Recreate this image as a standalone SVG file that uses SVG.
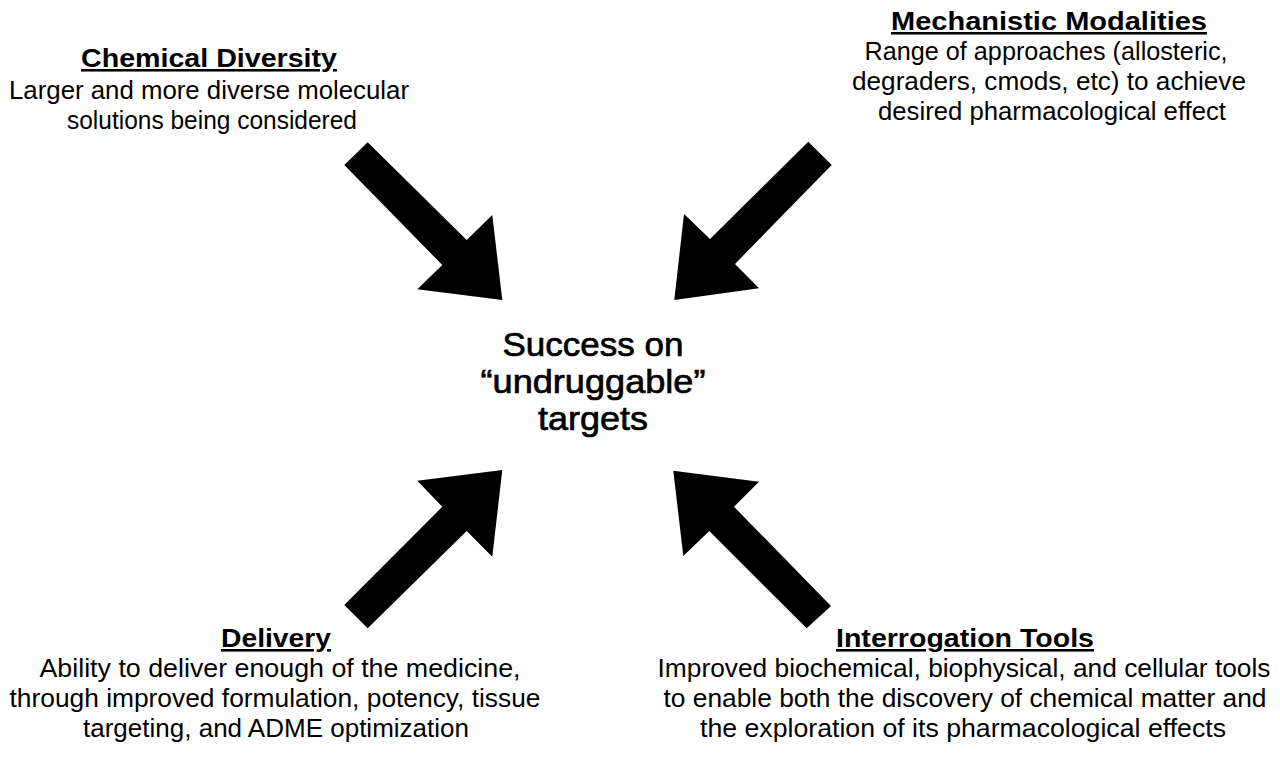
<svg xmlns="http://www.w3.org/2000/svg" width="1280" height="758" viewBox="0 0 1280 758">
<style>
text{font-family:"Liberation Sans",Arial,Helvetica,sans-serif;fill:#000;text-anchor:middle}
.t{font-size:25.5px;font-weight:bold;text-decoration:underline}
.b{font-size:25.5px}
.c{font-size:34px;stroke:#000;stroke-width:0.7px}
.arrow{fill:#000;stroke:none}
</style>
<rect width="1280" height="758" fill="#fff"/>
<g id="connectors">
<polygon class="arrow" points="344.3,165 367.7,142.3 466.7,240 492.3,215 502.3,300 417.3,289.3 442.3,265"/>
<polygon class="arrow" points="831.7,165 808.3,141.7 710,239 684,214 674.3,300 759,288.3 735,264"/>
<polygon class="arrow" points="344.3,605 367.7,628.3 466.7,531 492.3,556.7 502.3,470 417.3,480.7 442.3,506.7"/>
<polygon class="arrow" points="831,606 806.7,628.3 709.3,531 683.3,556 673.3,470.7 759,481.7 734,506.7"/>
</g>
<g id="center">
<text class="c" x="593" y="356" textLength="181" lengthAdjust="spacingAndGlyphs">Success on</text>
<text class="c" x="593" y="393" textLength="225" lengthAdjust="spacingAndGlyphs">“undruggable”</text>
<text class="c" x="593" y="430" textLength="110" lengthAdjust="spacingAndGlyphs">targets</text>
</g>
<g id="chemical-diversity">
<text class="t" x="209" y="67" textLength="256" lengthAdjust="spacingAndGlyphs">Chemical Diversity</text>
<text class="b" x="209" y="99" textLength="400" lengthAdjust="spacingAndGlyphs">Larger and more diverse molecular</text>
<text class="b" x="212" y="129" textLength="290" lengthAdjust="spacingAndGlyphs">solutions being considered</text>
</g>
<g id="mechanistic-modalities">
<text class="t" x="1049" y="30" textLength="316" lengthAdjust="spacingAndGlyphs">Mechanistic Modalities</text>
<text class="b" x="1046" y="60" textLength="363" lengthAdjust="spacingAndGlyphs">Range of approaches (allosteric,</text>
<text class="b" x="1049" y="90" textLength="394" lengthAdjust="spacingAndGlyphs">degraders, cmods, etc) to achieve</text>
<text class="b" x="1052" y="120" textLength="348" lengthAdjust="spacingAndGlyphs">desired pharmacological effect</text>
</g>
<g id="delivery">
<text class="t" x="276" y="647" textLength="110" lengthAdjust="spacingAndGlyphs">Delivery</text>
<text class="b" x="280" y="677" textLength="481" lengthAdjust="spacingAndGlyphs">Ability to deliver enough of the medicine,</text>
<text class="b" x="275" y="707" textLength="531" lengthAdjust="spacingAndGlyphs">through improved formulation, potency, tissue</text>
<text class="b" x="276" y="737" textLength="386" lengthAdjust="spacingAndGlyphs">targeting, and ADME optimization</text>
</g>
<g id="interrogation-tools">
<text class="t" x="965" y="647" textLength="258" lengthAdjust="spacingAndGlyphs">Interrogation Tools</text>
<text class="b" x="964" y="677" textLength="613" lengthAdjust="spacingAndGlyphs">Improved biochemical, biophysical, and cellular tools</text>
<text class="b" x="965" y="707" textLength="603" lengthAdjust="spacingAndGlyphs">to enable both the discovery of chemical matter and</text>
<text class="b" x="963" y="737" textLength="526" lengthAdjust="spacingAndGlyphs">the exploration of its pharmacological effects</text>
</g>
</svg>
